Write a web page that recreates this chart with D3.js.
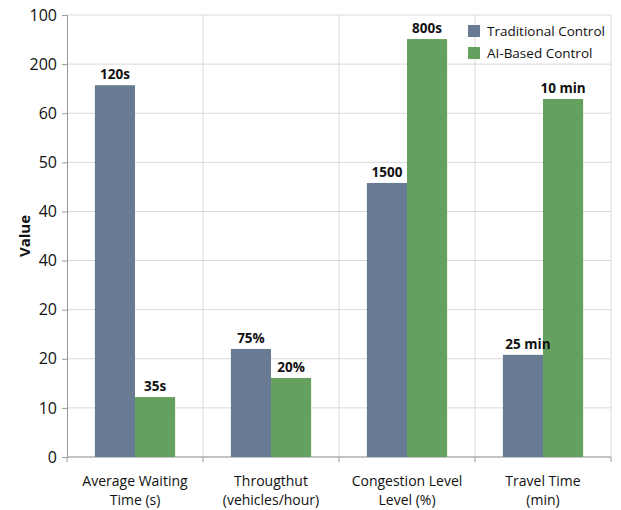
<!DOCTYPE html>
<meta charset="utf-8" />
<head>
  <style>
    body { margin: 0; background: #fff; }
    svg text { font-family: "Open Sans", sans-serif; fill: #111; }
  </style>
</head>
<script src="https://d3js.org/d3.v7.min.js"></script>
<body>
  <div id="chart"></div>
  <script>
    // chart data
    const categories = [
      ["Average Waiting", "Time (s)"],
      ["Througthut", "(vehicles/hour)"],
      ["Congestion Level", "Level (%)"],
      ["Travel Time", "(min)"],
    ];
    const seriesNames = ["Traditional Control", "AI-Based Control"];
    const traditional = [75.7, 22.0, 55.8, 20.8];
    const aiBased = [12.2, 16.1, 85.1, 72.9];
    const tradLabels = ["120s", "75%", "1500", "25 min"];
    const aiLabels = ["35s", "20%", "800s", "10 min"];
    // the y tick labels as printed (bottom to top)
    const tickValues = [0, 10, 20, 30, 40, 50, 60, 70, 80, 90];
    const tickLabels = ["0", "10", "20", "20", "40", "40", "50", "60", "200", "100"];

    const colors = ["#687b92", "#65a05f"];

    const svgWidth = 621, svgHeight = 510;
    const margin = { left: 67, right: 10, top: 15, bottom: 53 };
    const width = svgWidth - margin.left - margin.right;
    const height = svgHeight - margin.top - margin.bottom;

    const svg = d3.select("#chart").append("svg")
      .attr("width", svgWidth).attr("height", svgHeight);
    const g = svg.append("g")
      .attr("transform", `translate(${margin.left},${margin.top})`);

    const x = d3.scaleBand()
      .domain(d3.range(categories.length))
      .range([0, width])
      .paddingInner(0.41)
      .paddingOuter(0.205);
    const xSeries = d3.scaleBand().domain([0, 1]).range([0, x.bandwidth()]);
    const y = d3.scaleLinear().domain([0, 90]).range([height, 0]);

    // horizontal grid
    g.append("g").selectAll("line").data(tickValues).join("line")
      .attr("x1", 0).attr("x2", width)
      .attr("y1", d => y(d)).attr("y2", d => y(d))
      .attr("stroke", "#d9d9d9");

    // vertical grid at category boundaries
    const step = x.step();
    const bounds = d3.range(categories.length + 1).map(i => i * step);
    g.append("g").selectAll("line").data(bounds.slice(1)).join("line")
      .attr("x1", d => d).attr("x2", d => d)
      .attr("y1", 0).attr("y2", height)
      .attr("stroke", "#d9d9d9");

    // y axis
    const yAxis = g.append("g")
      .call(d3.axisLeft(y).tickValues(tickValues)
        .tickFormat((d, i) => tickLabels[i]).tickSize(5).tickPadding(5));
    yAxis.select(".domain").attr("stroke", "#9a9a9a");
    yAxis.selectAll(".tick line").attr("stroke", "#9a9a9a");
    yAxis.selectAll(".tick text")
      .attr("font-size", 16).attr("font-family", "Open Sans, sans-serif").attr("fill", "#111");

    // x axis line + boundary ticks
    g.append("line").attr("x1", 0).attr("x2", width)
      .attr("y1", height).attr("y2", height).attr("stroke", "#9a9a9a");
    g.append("g").selectAll("line").data(bounds).join("line")
      .attr("x1", d => d).attr("x2", d => d)
      .attr("y1", height).attr("y2", height + 5)
      .attr("stroke", "#9a9a9a");

    // bars
    const series = [traditional, aiBased];
    const labels = [tradLabels, aiLabels];
    series.forEach((vals, s) => {
      g.append("g").selectAll("rect").data(vals).join("rect")
        .attr("x", (d, i) => x(i) + xSeries(s))
        .attr("width", xSeries.bandwidth())
        .attr("y", d => y(d))
        .attr("height", d => height - y(d))
        .attr("fill", colors[s]);
    });

    // value labels drawn on top of all bars
    series.forEach((vals, s) => {
      g.append("g").selectAll("text").data(vals).join("text")
        .attr("x", (d, i) => x(i) + xSeries(s) + xSeries.bandwidth() / 2 + (s === 0 && i === 3 ? 5 : 0))
        .attr("y", d => y(d) - 6)
        .attr("text-anchor", "middle")
        .attr("font-size", 13.5)
        .attr("font-weight", 700)
        .text((d, i) => labels[s][i]);
    });

    // category labels
    categories.forEach((lines, i) => {
      const t = g.append("text")
        .attr("x", x(i) + x.bandwidth() / 2)
        .attr("y", height + 29)
        .attr("text-anchor", "middle")
        .attr("font-size", 14);
      lines.forEach((l, k) => t.append("tspan")
        .attr("x", x(i) + x.bandwidth() / 2)
        .attr("dy", k === 0 ? 0 : 19)
        .text(l));
    });

    // y axis title
    svg.append("text")
      .attr("transform", `translate(30,${margin.top + height / 2}) rotate(-90)`)
      .attr("text-anchor", "middle")
      .attr("font-size", 15)
      .attr("font-weight", 700)
      .text("Value");

    // legend
    const legend = svg.append("g").attr("transform", "translate(468,25)");
    seriesNames.forEach((name, i) => {
      legend.append("rect").attr("x", 0).attr("y", i * 22)
        .attr("width", 12).attr("height", 12).attr("fill", colors[i]);
      legend.append("text").attr("x", 19).attr("y", i * 22 + 11)
        .attr("font-size", 13.5).text(name);
    });
  </script>
</body>
